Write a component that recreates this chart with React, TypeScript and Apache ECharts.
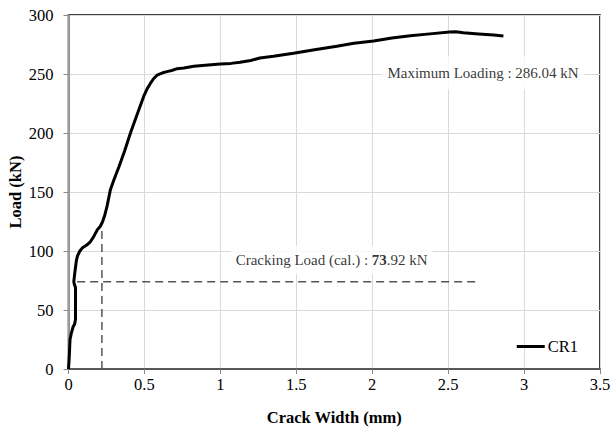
import React, { useEffect, useRef } from "react";
import * as echarts from "echarts";

const crackWidth = [
  0, 0.005, 0.01, 0.018, 0.031, 0.04, 0.046, 0.046, 0.046, 0.038, 0.035, 0.04, 0.046, 0.052, 0.06,
  0.075, 0.09, 0.12, 0.145, 0.165, 0.19, 0.21, 0.225, 0.24, 0.254, 0.265, 0.276, 0.298, 0.331,
  0.37, 0.408, 0.45, 0.495, 0.52, 0.539, 0.56, 0.583, 0.62, 0.649, 0.68, 0.715, 0.76, 0.825,
  0.9, 1.0, 1.07, 1.13, 1.2, 1.26, 1.35, 1.482, 1.62, 1.767, 1.88, 2.009, 2.13, 2.25, 2.38,
  2.51, 2.55, 2.6, 2.7, 2.8, 2.864,
];
const load = [
  0, 10, 25, 30, 36, 38, 42, 55, 69, 72, 74, 80, 86, 92, 96, 100, 102.5, 105, 108, 112, 118,
  121, 125, 131, 138, 145, 152, 160, 171, 185, 200, 215, 231, 238, 242, 246, 249, 251, 252,
  253, 254.5, 255, 256.5, 257.5, 258.5, 259, 260, 261.5, 263.5, 265, 267.5, 270.5, 273.5,
  276, 278, 280.5, 282.5, 284, 285.5, 285.8, 285, 284, 283, 282.2,
];
const seriesName = "CR1";
const crackingLoad = 73.92;
const crackingWidth = 0.22;
const crackingLineEnd = [0.057, 2.71];
const crackingVerticalTop = 120;
const maxLoading = 286.04;
const xTicks = [0, 0.5, 1, 1.5, 2, 2.5, 3, 3.5];
const yTicks = [0, 50, 100, 150, 200, 250, 300];

const FONT = "'Liberation Serif', 'Times New Roman', serif";

export default function App() {
  const ref = useRef<HTMLDivElement>(null);
  useEffect(() => {
    document.body.style.margin = "0";
    const chart = echarts.init(ref.current!, null, { renderer: "svg" });
    const curve = crackWidth.map((x, i) => [x, load[i]]);
    chart.setOption({
      animation: false,
      backgroundColor: "#fff",
      textStyle: { fontFamily: FONT },
      grid: {
        left: 68.5,
        right: 11,
        top: 15,
        bottom: 64,
        containLabel: false,
        outerBoundsMode: "none",
        show: true,
        borderColor: "#000",
        borderWidth: 1.5,
      },
      legend: {
        data: [seriesName],
        right: 28,
        top: 333,
        icon: "rect",
        itemWidth: 28,
        itemHeight: 3,
        itemGap: 4,
        textStyle: { fontFamily: FONT, fontSize: 16.5, color: "#000", padding: [0, 0, 0, -2] },
      },
      xAxis: {
        type: "value",
        min: xTicks[0],
        max: xTicks[xTicks.length - 1],
        interval: 0.5,
        name: "Crack Width (mm)",
        nameLocation: "middle",
        nameGap: 40,
        nameTextStyle: { fontFamily: FONT, fontSize: 16.5, fontWeight: "bold", color: "#000" },
        axisLine: { lineStyle: { color: "#595959", width: 2 } },
        axisTick: { show: true, inside: false, length: 5, lineStyle: { color: "#888" } },
        axisLabel: { fontFamily: FONT, fontSize: 16.5, color: "#000", margin: 7 },
        splitLine: { show: true, lineStyle: { color: "#d9d9d9", width: 1 } },
      },
      yAxis: {
        type: "value",
        min: yTicks[0],
        max: yTicks[yTicks.length - 1],
        interval: 50,
        name: "Load (kN)",
        nameLocation: "middle",
        nameGap: 45,
        nameMoveOverlap: false,
        nameRotate: 90,
        nameTextStyle: { fontFamily: FONT, fontSize: 16.5, fontWeight: "bold", color: "#000" },
        axisLine: { show: true, lineStyle: { color: "#868686", width: 1.5 } },
        axisTick: { show: true, inside: false, length: 5, lineStyle: { color: "#888" } },
        axisLabel: { fontFamily: FONT, fontSize: 16.5, color: "#000", margin: 15 },
        splitLine: { show: true, lineStyle: { color: "#d9d9d9", width: 1 } },
      },
      series: [
        {
          name: "cracking-h",
          type: "line",
          data: [
            [crackingLineEnd[0], crackingLoad],
            [crackingLineEnd[1], crackingLoad],
          ],
          symbol: "none",
          silent: true,
          lineStyle: { color: "#555", width: 1.5, type: [8, 5] },
          z: 2,
        },
        {
          name: "cracking-v",
          type: "line",
          data: [
            [crackingWidth, 0],
            [crackingWidth, crackingVerticalTop],
          ],
          symbol: "none",
          silent: true,
          lineStyle: { color: "#555", width: 1.5, type: [8, 5] },
          z: 2,
        },
        {
          name: "labels",
          type: "scatter",
          symbolSize: 0,
          silent: true,
          z: 3,
          data: [
            {
              value: [1.733, 92.4],
              label: {
                show: true,
                position: "inside",
                formatter: "Cracking Load (cal.) : {b|73}.92 kN",
                fontFamily: FONT,
                fontSize: 15,
                color: "#000",
                backgroundColor: "#fff",
                padding: [7, 5, 7, 5],
                rich: { b: { fontFamily: FONT, fontSize: 15, fontWeight: "bold", color: "#000" } },
              },
            },
            {
              value: [2.73, 250.8],
              label: {
                show: true,
                position: "inside",
                formatter: "Maximum Loading : " + maxLoading.toFixed(2) + " kN",
                fontFamily: FONT,
                fontSize: 15,
                color: "#000",
                backgroundColor: "#fff",
                padding: [9, 6, 9, 6],
              },
            },
          ],
        },
        {
          name: seriesName,
          type: "line",
          data: curve,
          symbol: "none",
          lineStyle: { color: "#000", width: 3 },
          itemStyle: { color: "#000" },
          z: 4,
        },
      ],
    });
    return () => chart.dispose();
  }, []);
  return <div ref={ref} style={{ width: 611, height: 433 }} />;
}
